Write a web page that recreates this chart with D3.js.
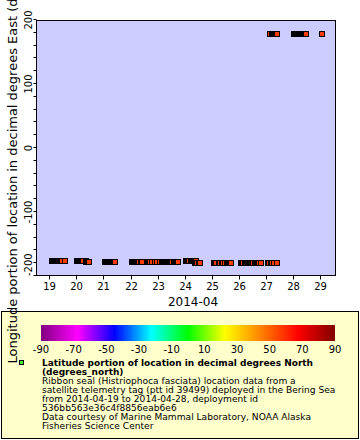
<!DOCTYPE html>
<html><head><meta charset="utf-8">
<script src="https://cdn.jsdelivr.net/npm/d3@7"></script>
<style>html,body{margin:0;padding:0;background:#fff;} svg{display:block;font-family:"DejaVu Sans",sans-serif;}</style>
</head><body><svg id="c" width="360" height="440"></svg>
<script>
// ---------- data ----------
const dayTicks = [19,20,21,22,23,24,25,26,27,28,29];
const xTitle = "2014-04";
const yTitle = "Longitude portion of location in decimal degrees East (degrees_east)";
const lonTicks = [-200,-100,0,100,200];
const lonMinorTicks = [-200,-180,-160,-140,-120,-100,-80,-60,-40,-20,0,20,40,60,80,100,120,140,160,180,200];
const colorTicks = [-90,-70,-50,-30,-10,10,30,50,70,90];
const paletteColors = ["#800080","#ff00ff","#0000ff","#00ffff","#00ff00","#ffff00","#ff8000","#ff0000","#800000"];

// observation times (decimal day of April 2014, UTC), one list per track segment
const trackDays = [
  [19.100,19.135,19.170,19.205,19.240,19.275,19.310,19.345,19.380,19.415,19.450,19.469,19.568],
  [20.022,20.057,20.092,20.127,20.162,20.197,20.232,20.262,20.343],
  [20.365,20.398,20.432,20.458],
  [21.055,21.090,21.125,21.160,21.195,21.230,21.265,21.300,21.335,21.370,21.405,21.417],
  [22.052,22.087,22.122,22.157,22.192,22.227,22.262,22.310,22.384,22.430,22.605,22.642,22.679,22.705,22.801,22.900,22.985,23.074,23.159,23.194,23.229,23.264,23.299,23.334,23.369,23.404,23.439,23.474,23.509,23.528,23.601,23.638,23.675,23.712,23.742],
  [24.055,24.092,24.129,24.166,24.240,24.277,24.314,24.351,24.387,24.424],
  [24.387,24.424,24.461,24.535,24.579],
  [25.077,25.114,25.151,25.244,25.310,25.384,25.421,25.472,25.546,25.583,25.620,25.657,25.686,25.716],
  [26.063,26.100,26.148,26.221,26.258,26.295,26.332,26.369,26.406,26.443,26.480,26.517,26.590,26.627,26.664,26.701,26.738,26.801],
  [27.070,27.107,27.170,27.207,27.236,27.303,27.391],
  [27.155,27.225,27.262,27.299,27.336,27.365,27.395],
  [28.030,28.065,28.100,28.135,28.170,28.205,28.240,28.275,28.310,28.345,28.380,28.415,28.450,28.472],
  [29.063]
];
const trackLon = [-176.3,-176.3,-178.4,-178.1,-178.1,-177.3,-179.2,-179.9,-179.9,-179.9,178.1,178.1,178.1];
const trackLat = [57.2,57.0,57.1,57.3,57.0,57.2,57.1,57.0,57.2,57.1,57.0,57.1,57.2];

const legendBold = ["Latitude portion of location in decimal degrees North","(degrees_north)"];
const legendLines = [
  "Ribbon seal (Histriophoca fasciata) location data from a",
  "satellite telemetry tag (ptt id 39499) deployed in the Bering Sea",
  "from 2014-04-19 to 2014-04-28, deployment id",
  "536bb563e36c4f8856eab6e6",
  "Data courtesy of Marine Mammal Laboratory, NOAA Alaska",
  "Fisheries Science Center"
];

// ---------- chart ----------
const svg = d3.select("#c");
const dayToDate = d => new Date(Date.UTC(2014,3,1) + (d-1)*864e5);
const L = 36.5, R = 335.5, T = 20.5, B = 275.5;
const x = d3.scaleUtc().domain([dayToDate(18.5277), dayToDate(29.561)]).range([L, R]);
const y = d3.scaleLinear().domain([-200,200]).range([276,20]);
const color = d3.scaleLinear().domain(d3.range(paletteColors.length).map(i => -90 + i*180/(paletteColors.length-1))).range(paletteColors);

svg.append("rect").attr("x",0).attr("y",0).attr("width",360).attr("height",440).attr("fill","#fff");
svg.append("rect").attr("x",L).attr("y",T).attr("width",R-L).attr("height",B-T).attr("fill","#ccccff");

// markers
const gm = svg.append("g");
trackDays.forEach((days,i) => {
  days.forEach(d => {
    const cx = Math.round(x(dayToDate(d))), cy = Math.round(y(trackLon[i]));
    gm.append("rect").attr("x",cx-2.5).attr("y",cy-2.5).attr("width",5).attr("height",5)
      .attr("fill",color(trackLat[i])).attr("stroke","#000").attr("stroke-width",1);
  });
});

svg.append("rect").attr("x",L).attr("y",T).attr("width",R-L).attr("height",B-T).attr("fill","none").attr("stroke","#000").attr("stroke-width",1);

// x axis
const gx = svg.append("g");
dayTicks.forEach(d => {
  const px = Math.round(x(dayToDate(d))) + 0.5;
  gx.append("line").attr("x1",px).attr("x2",px).attr("y1",B).attr("y2",B+4).attr("stroke","#000");
  gx.append("text").attr("x",px).attr("y",290).attr("text-anchor","middle").attr("font-size",10).text(d);
});
gx.append("text").attr("x",193).attr("y",306).attr("text-anchor","middle").attr("font-size",12).text(xTitle);

// y axis
const gy = svg.append("g");
lonMinorTicks.forEach(v => {
  const py = Math.round(y(v)) - 0.5;
  gy.append("line").attr("x1",L-3).attr("x2",L).attr("y1",py).attr("y2",py).attr("stroke","#000");
});
lonTicks.forEach((v,i) => {
  const py = y(v);
  gy.append("text").attr("font-size",10)
    .attr("transform", `translate(31.5,${i===0 ? 276 : py}) rotate(-90)`)
    .attr("text-anchor", i===0 ? "start" : "middle").text(v);
});

// legend box
svg.append("rect").attr("x",1.5).attr("y",311.5).attr("width",357).attr("height",127).attr("fill","#ffffcc").attr("stroke","#000");
const defs = svg.append("defs");
const grad = defs.append("linearGradient").attr("id","pal");
paletteColors.forEach((c,i) => grad.append("stop").attr("offset", (i/(paletteColors.length-1)*100)+"%").attr("stop-color",c));
const cb = d3.scaleLinear().domain([-90,90]).range([41,335]);
svg.append("rect").attr("x",41).attr("y",325).attr("width",294).attr("height",16).attr("fill","url(#pal)");
colorTicks.forEach(v => {
  svg.append("text").attr("x",cb(v)).attr("y",353).attr("text-anchor","middle").attr("font-size",10).text(v);
});
svg.append("rect").attr("x",19.5).attr("y",360.5).attr("width",4).attr("height",4).attr("fill","#44ee44").attr("stroke","#000");
legendBold.forEach((s,i) => svg.append("text").attr("x",42).attr("y",366+9*i).attr("font-size",9).attr("font-weight","bold").text(s));
legendLines.forEach((s,i) => svg.append("text").attr("x",42).attr("y",384+9*i).attr("font-size",9.1).text(s));

// y title (drawn over legend; runs past the top edge as in the original)
svg.append("text").attr("font-size",13).attr("transform","translate(17,363.5) rotate(-90)").attr("text-anchor","start").text(yTitle);
</script></body></html>
